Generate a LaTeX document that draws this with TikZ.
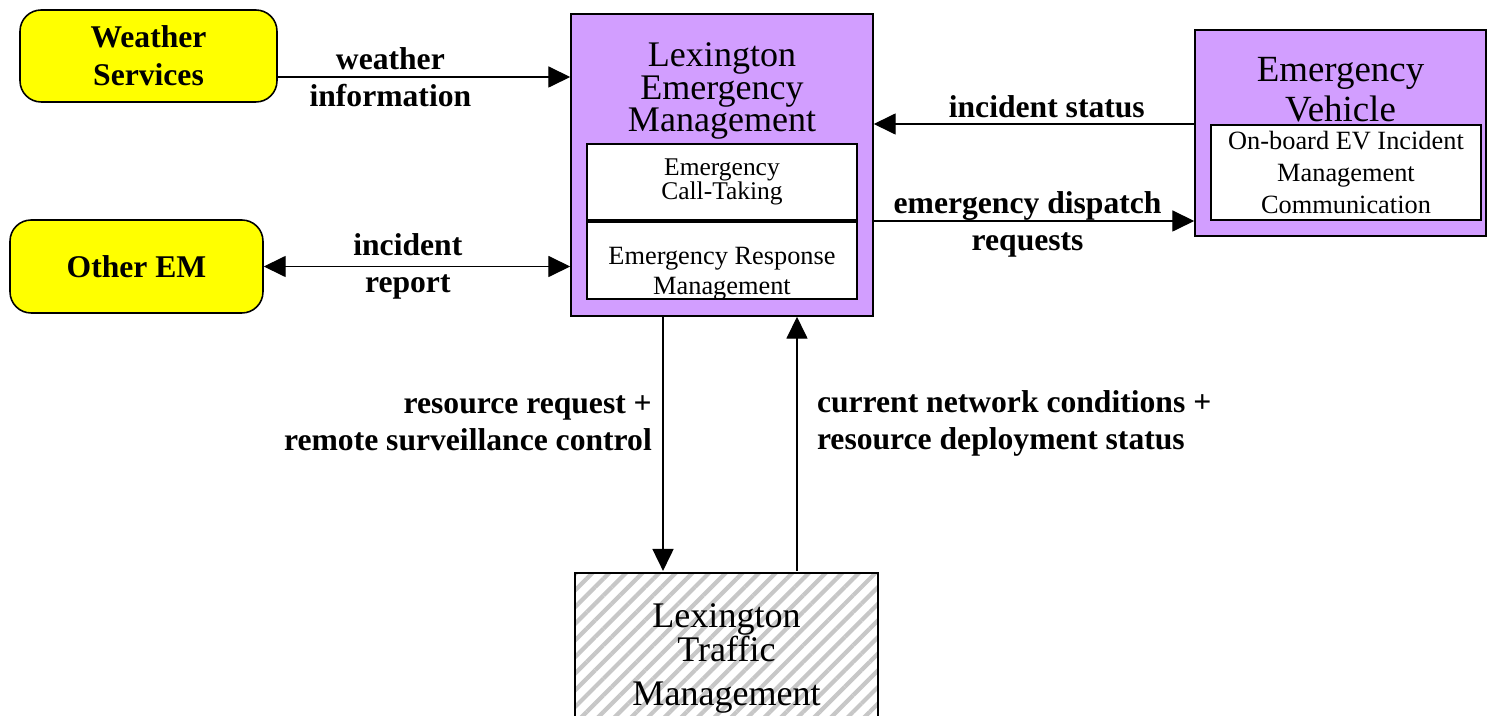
\documentclass[tikz,border=0pt]{standalone}
\usepackage{fontspec}
\setmainfont{Liberation Serif}
\usetikzlibrary{positioning,arrows.meta,patterns.meta}
\definecolor{extyellow}{HTML}{FFFF00}
\definecolor{sysviolet}{HTML}{D29EFF}
\setlength{\lineskiplimit}{-30pt}

\begin{document}
\begin{tikzpicture}[
  x=0.02cm, y=-0.02cm,
  ext/.style={draw, rounded corners=12pt, fill=extyellow, line width=0.9pt, align=center, font=\bfseries\fontsize{18}{21.5}\selectfont},
  sys/.style={draw, fill=sysviolet, line width=0.9pt, inner sep=0pt},
  sub/.style={draw, fill=white, line width=0.9pt, inner sep=0pt, align=center, minimum width=5.4cm},
  hatched/.style={draw, line width=0.9pt, pattern={Lines[angle=45,distance=6.7pt,line width=2.4pt]}, pattern color=black!22, align=center, font=\fontsize{20.5}{19.2}\selectfont},
  ttl/.style={inner sep=0pt, align=center},
  flow/.style={-{Triangle[length=12.5pt,width=12pt]}, line width=0.8pt},
  flowtwo/.style={{Triangle[length=12.5pt,width=12pt]}-{Triangle[length=12.5pt,width=12pt]}, line width=0.8pt},
  lbl/.style={inner sep=0pt, align=center, font=\bfseries\fontsize{18}{21}\selectfont}
]
\useasboundingbox (0,0) rectangle (1488,716);
\clip (0,0) rectangle (1488,716);

% external entities
\node[ext, minimum width=5.14cm, minimum height=1.84cm] (ws) at (148.5,56) {Weather\\Services};
\node[ext, minimum width=5.06cm, minimum height=1.86cm] (oem) at (136.5,266.5) {Other EM};

% emergency management
\node[sys, minimum width=6.04cm, minimum height=6.04cm] (lem) at (722,165) {};
\node[ttl, below=0.58cm of lem.north, font=\fontsize{20.5}{18.6}\selectfont] (lemt) {Lexington\\Emergency\\Management};
\node[sub, minimum height=1.52cm, font=\fontsize{14.5}{14}\selectfont] (ct) at (722,182) {Emergency\\Call-Taking};
\node[sub, minimum height=1.54cm] (erm) at (722,260.5) {};
\node[ttl, below=0.51cm of erm.north, font=\fontsize{15}{17}\selectfont] (ermt) {Emergency Response\\Management};

% vehicle
\node[sys, minimum width=5.82cm, minimum height=4.12cm] (ev) at (1340.5,133) {};
\node[ttl, below=0.55cm of ev.north, font=\fontsize{21}{22.7}\selectfont] (evt) {Emergency\\Vehicle};
\node[sub, minimum height=1.9cm, font=\fontsize{15}{18}\selectfont] (obc) at (1346,172.5) {On-board EV Incident\\Management\\Communication};

% traffic management
\node[hatched, minimum width=6.06cm, minimum height=3.42cm] (ltm) at (726.5,658.5) {Lexington\\Traffic\\[6pt]Management};

% flows
\draw[flow] ([yshift=-0.42cm]ws.east) -- ([yshift=-0.42cm]ws.east -| lem.west)
  node[lbl, pos=0.385] (wsl) {weather\\information};
\draw[flowtwo] (oem.east) -- (oem.east -| lem.west)
  node[lbl, pos=0.47] (oeml) {incident\\report};
\draw[flow] ([yshift=0.18cm]ev.west) -- ([yshift=0.18cm]ev.west -| lem.east)
  node[lbl, above=3pt, pos=0.46] (isl) {incident status};
\draw[flow] ([yshift=-1.12cm]lem.east) -- ([yshift=-1.12cm]lem.east -| ev.west)
  node[lbl, pos=0.48, yshift=-0.07cm] (edl) {emergency dispatch\\requests};
\draw[flow] ([xshift=-1.18cm]lem.south) -- ([xshift=-1.18cm]lem.south |- ltm.north)
  node[lbl, align=right, left=6pt, pos=0.42] (rrl) {resource request +\\remote surveillance control};
\draw[flow] ([xshift=1.5cm]lem.south |- ltm.north) -- ([xshift=1.5cm]lem.south)
  node[lbl, align=left, right=11pt, pos=0.58] (cnl) {current network conditions +\\resource deployment status};
\end{tikzpicture}
\end{document}
